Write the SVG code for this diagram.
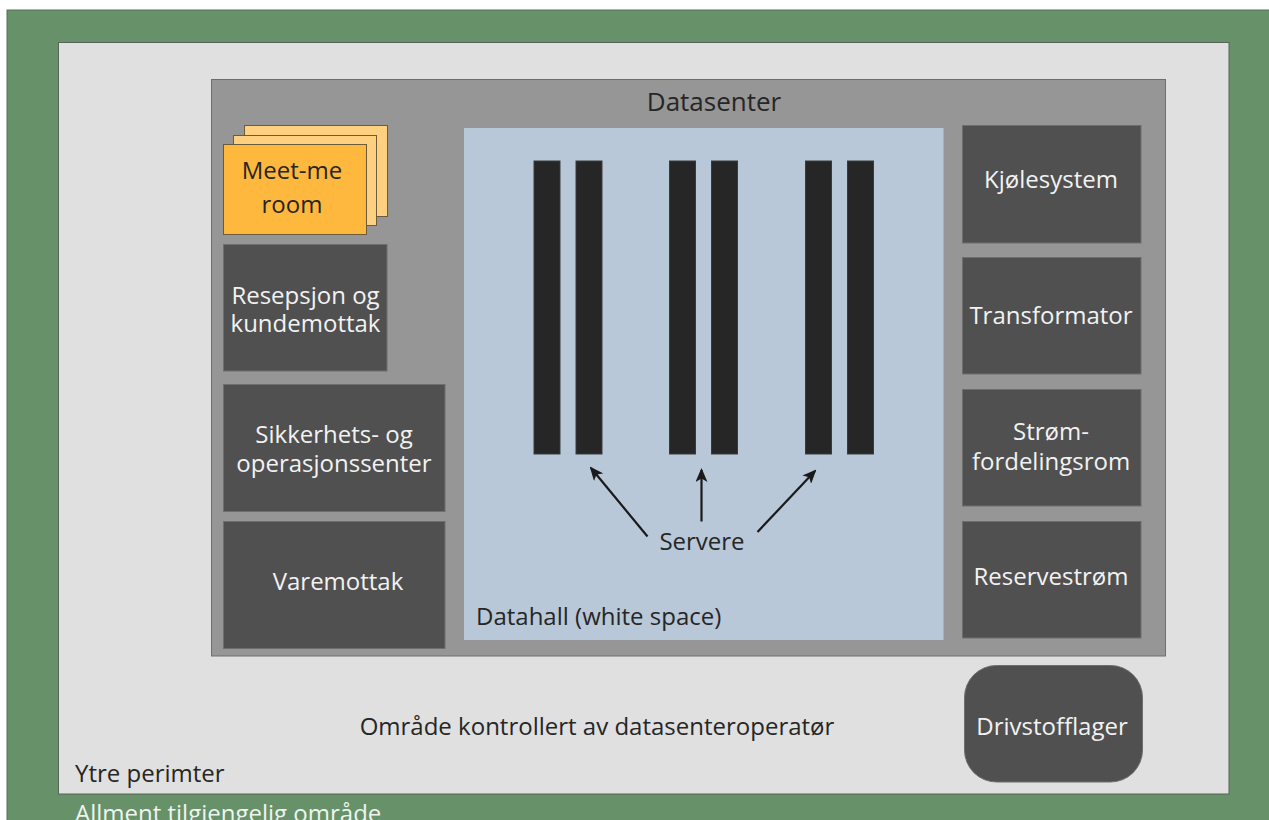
<svg xmlns="http://www.w3.org/2000/svg" width="1269" height="820" viewBox="0 0 1269 820">
  <style>
    text { font-family: "Open Sans", "Liberation Sans", sans-serif; }
    .dark { fill: #262626; font-size: 24px; }
    .light { fill: #f2f2f2; font-size: 24px; }
    .room { fill: #505050; stroke: #6e6e6e; stroke-width: 1; }
    .rack { fill: #262626; stroke: #3a3a3a; stroke-width: 1; }
    .card { stroke: #6b5a3c; stroke-width: 1; }
    .arrow { stroke: #1a1a1a; stroke-width: 2.2; fill: none; marker-end: url(#head); }
  </style>
  <defs>
    <marker id="head" viewBox="0 0 14 12" refX="12" refY="6" markerWidth="14" markerHeight="12" markerUnits="userSpaceOnUse" orient="auto">
      <path d="M0,0 L14,6 L0,12 L3.5,6 Z" fill="#1a1a1a"/>
    </marker>
  </defs>

  <rect width="1269" height="820" fill="#ffffff"/>

  <!-- public area -->
  <g id="public-area">
    <rect x="7" y="10" width="1270" height="820" fill="#679169" stroke="#55705a" stroke-width="1"/>
    <text x="75" y="822" fill="#eef4ee" style="font-size:24px">Allment tilgjengelig område</text>
  </g>

  <!-- outer perimeter -->
  <g id="perimeter">
    <rect x="58.5" y="42.5" width="1170.5" height="751.5" fill="#e0e0e0" stroke="#56645a" stroke-width="1"/>
    <text class="dark" x="75" y="782">Ytre perimter</text>
    <text class="dark" x="597" y="735" text-anchor="middle">Område kontrollert av datasenteroperatør</text>
  </g>

  <!-- data centre building -->
  <g id="datasenter">
    <rect x="211.5" y="79.5" width="954" height="576.5" fill="#969696" stroke="#6e6e6e" stroke-width="1"/>
    <text class="dark" x="714" y="111" text-anchor="middle" style="font-size:26px">Datasenter</text>
  </g>

  <!-- data hall -->
  <g id="datahall">
    <rect x="464" y="128" width="479.5" height="512" fill="#b8c8d8"/>
    <text class="dark" x="476" y="625">Datahall (white space)</text>
  </g>

  <g id="servers">
    <rect class="rack" x="534" y="161" width="26" height="293"/>
    <rect class="rack" x="576" y="161" width="26" height="293"/>
    <rect class="rack" x="669.5" y="161" width="26" height="293"/>
    <rect class="rack" x="711.5" y="161" width="26" height="293"/>
    <rect class="rack" x="805.5" y="161" width="26" height="293"/>
    <rect class="rack" x="847.5" y="161" width="26" height="293"/>
    <text class="dark" x="702" y="550" text-anchor="middle">Servere</text>
  </g>

  <g id="connectors">
    <line class="arrow" x1="647.5" y1="536.5" x2="591" y2="468"/>
    <line class="arrow" x1="701.5" y1="521.5" x2="701.5" y2="470"/>
    <line class="arrow" x1="757.5" y1="532" x2="815" y2="471"/>
  </g>

  <!-- left column -->
  <g id="meet-me-room">
    <rect class="card" x="244.5" y="125.5" width="143" height="91" fill="#ffd080"/>
    <rect class="card" x="233.5" y="135.5" width="143" height="90" fill="#ffd080"/>
    <rect class="card" x="223.5" y="144.5" width="143" height="90" fill="#ffb83e"/>
    <text class="dark" x="292" y="179" text-anchor="middle">Meet-me</text>
    <text class="dark" x="292" y="213" text-anchor="middle">room</text>
  </g>

  <g id="resepsjon">
    <rect class="room" x="223.5" y="244.5" width="163.5" height="126.5"/>
    <text class="light" x="305.5" y="304" text-anchor="middle">Resepsjon og</text>
    <text class="light" x="305.5" y="332" text-anchor="middle">kundemottak</text>
  </g>

  <g id="sikkerhetssenter">
    <rect class="room" x="223.5" y="384.5" width="221.5" height="127"/>
    <text class="light" x="334" y="443" text-anchor="middle">Sikkerhets- og</text>
    <text class="light" x="334" y="472" text-anchor="middle">operasjonssenter</text>
  </g>

  <g id="varemottak">
    <rect class="room" x="223.5" y="521.5" width="221.5" height="127"/>
    <text class="light" x="338" y="590" text-anchor="middle">Varemottak</text>
  </g>

  <!-- right column -->
  <g id="kjolesystem">
    <rect class="room" x="962.5" y="125.5" width="178.5" height="117.5"/>
    <text class="light" x="1051" y="188" text-anchor="middle">Kjølesystem</text>
  </g>

  <g id="transformator">
    <rect class="room" x="962.5" y="257.5" width="178.5" height="116.5"/>
    <text class="light" x="1051" y="324" text-anchor="middle">Transformator</text>
  </g>

  <g id="stromfordeling">
    <rect class="room" x="962.5" y="389.5" width="178.5" height="116.5"/>
    <text class="light" x="1051" y="440" text-anchor="middle">Strøm-</text>
    <text class="light" x="1051" y="470" text-anchor="middle">fordelingsrom</text>
  </g>

  <g id="reservestrom">
    <rect class="room" x="962.5" y="521.5" width="178.5" height="116.5"/>
    <text class="light" x="1051" y="585" text-anchor="middle">Reservestrøm</text>
  </g>

  <g id="drivstofflager">
    <rect class="room" x="964.5" y="665.5" width="178" height="116.5" rx="32" ry="32"/>
    <text class="light" x="1052" y="735" text-anchor="middle">Drivstofflager</text>
  </g>
</svg>
